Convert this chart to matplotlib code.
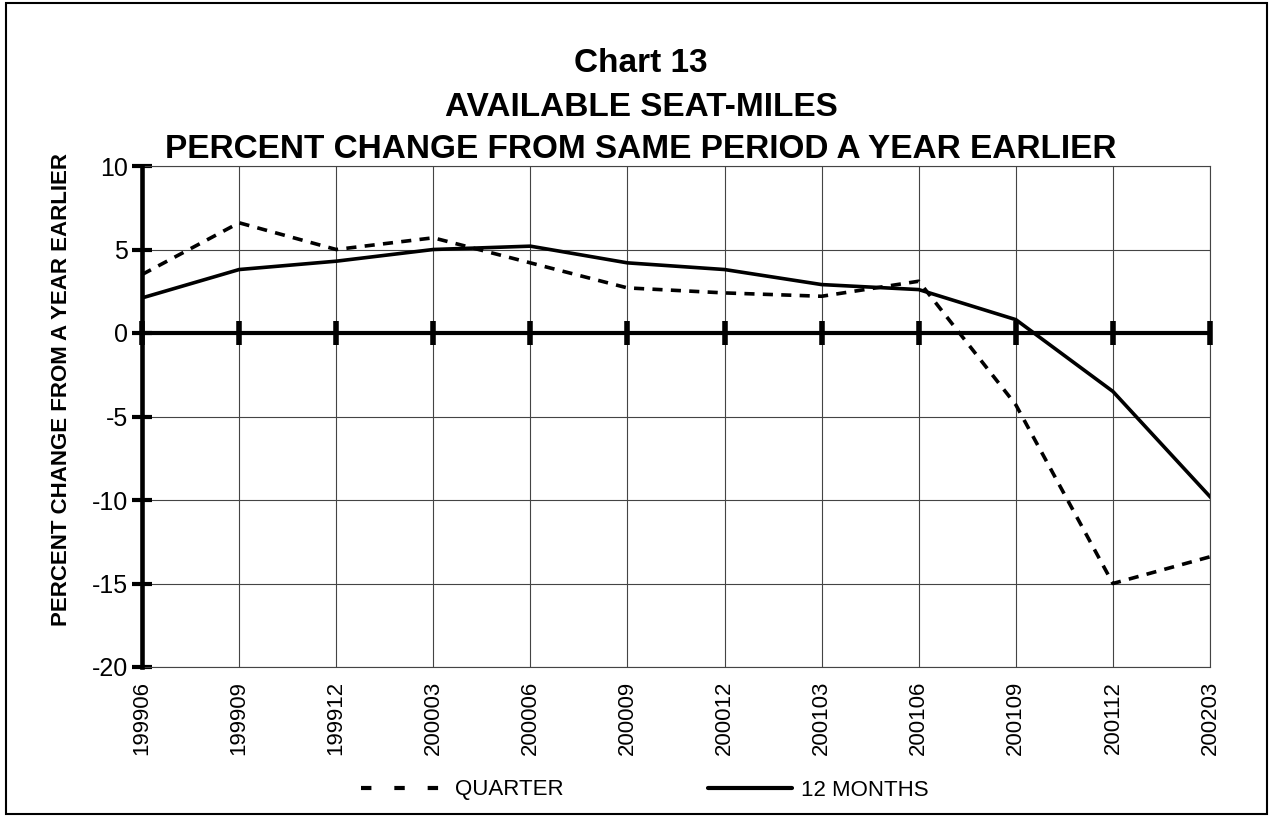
import matplotlib

matplotlib.use("Agg")
import matplotlib.pyplot as plt
from matplotlib.lines import Line2D
from matplotlib.patches import Rectangle

periods = ["199906", "199909", "199912", "200003", "200006", "200009",
           "200012", "200103", "200106", "200109", "200112", "200203"]
quarter = [3.5, 6.6, 5.0, 5.7, 4.2, 2.7, 2.4, 2.2, 3.1, -4.3, -15.0, -13.4]
twelve_months = [2.1, 3.8, 4.3, 5.0, 5.2, 4.2, 3.8, 2.9, 2.6, 0.8, -3.5, -9.8]
y_ticks = [10, 5, 0, -5, -10, -15, -20]

plt.rcParams["font.family"] = ["Liberation Sans", "DejaVu Sans"]

W, H = 1270, 816
fig = plt.figure(figsize=(W / 100, H / 100), dpi=100)
ax = fig.add_axes([142 / W, 1 - 667 / H, (1210 - 142) / W, (667 - 166) / H])

x = list(range(len(periods)))

ax.plot(x, quarter, color="black", linewidth=2.6, dashes=(2.8, 2.3), zorder=4)
ax.plot(x, twelve_months, color="black", linewidth=2.6, zorder=5)

ax.set_xlim(0, len(periods) - 1)
ax.set_ylim(-20, 10)
ax.set_xticks(x)
ax.set_xticklabels(periods, rotation=90, fontsize=16)
ax.set_yticks(y_ticks)
ax.set_yticklabels([str(v) for v in y_ticks], fontsize=18)

ax.grid(True, color="#444444", linewidth=0.8)
ax.set_axisbelow(True)
for side in ["top", "right", "bottom"]:
    ax.spines[side].set_linewidth(0.8)
    ax.spines[side].set_color("#444444")
ax.spines["left"].set_linewidth(3.3)
ax.spines["left"].set_zorder(6)

ax.tick_params(axis="y", direction="inout", length=14, width=3, pad=3)
ax.tick_params(axis="x", length=0, pad=10)

# zero line with its own category marks
ax.axhline(0, color="black", linewidth=3, zorder=3)
ax.plot(x, [0] * len(x), linestyle="none", marker="|", markersize=17,
        markeredgewidth=4, color="black", zorder=3, clip_on=False)

ax.set_ylabel("PERCENT CHANGE FROM A YEAR EARLIER", fontsize=16, fontweight="bold")
ax.yaxis.set_label_coords((62 - 142) / (1210 - 142), (667 - 389) / (667 - 166))
ax.yaxis.label.set_va("center")

title_lines = ["Chart 13", "AVAILABLE SEAT-MILES",
               "PERCENT CHANGE FROM SAME PERIOD A YEAR EARLIER"]
for line, base in zip(title_lines, [72, 116, 158]):
    fig.text(641 / W, 1 - base / H, line, ha="center", va="baseline",
             fontsize=24, fontweight="bold")

handles = [
    Line2D([], [], color="black", linewidth=3, dashes=(2.5, 5.5)),
    Line2D([], [], color="black", linewidth=3, solid_capstyle="round"),
]
fig.legend(handles, ["QUARTER", "12 MONTHS"], loc="center",
           bbox_to_anchor=(645 / W, 1 - 790 / H), ncol=2, frameon=False,
           fontsize=16, handlelength=3.8, columnspacing=6.5, handletextpad=0.4)

fig.patches.append(Rectangle((6 / W, 2 / H), 1261 / W, 811 / H,
                             transform=fig.transFigure, fill=False,
                             edgecolor="black", linewidth=1.5))

fig.savefig("out.png", dpi=100)
